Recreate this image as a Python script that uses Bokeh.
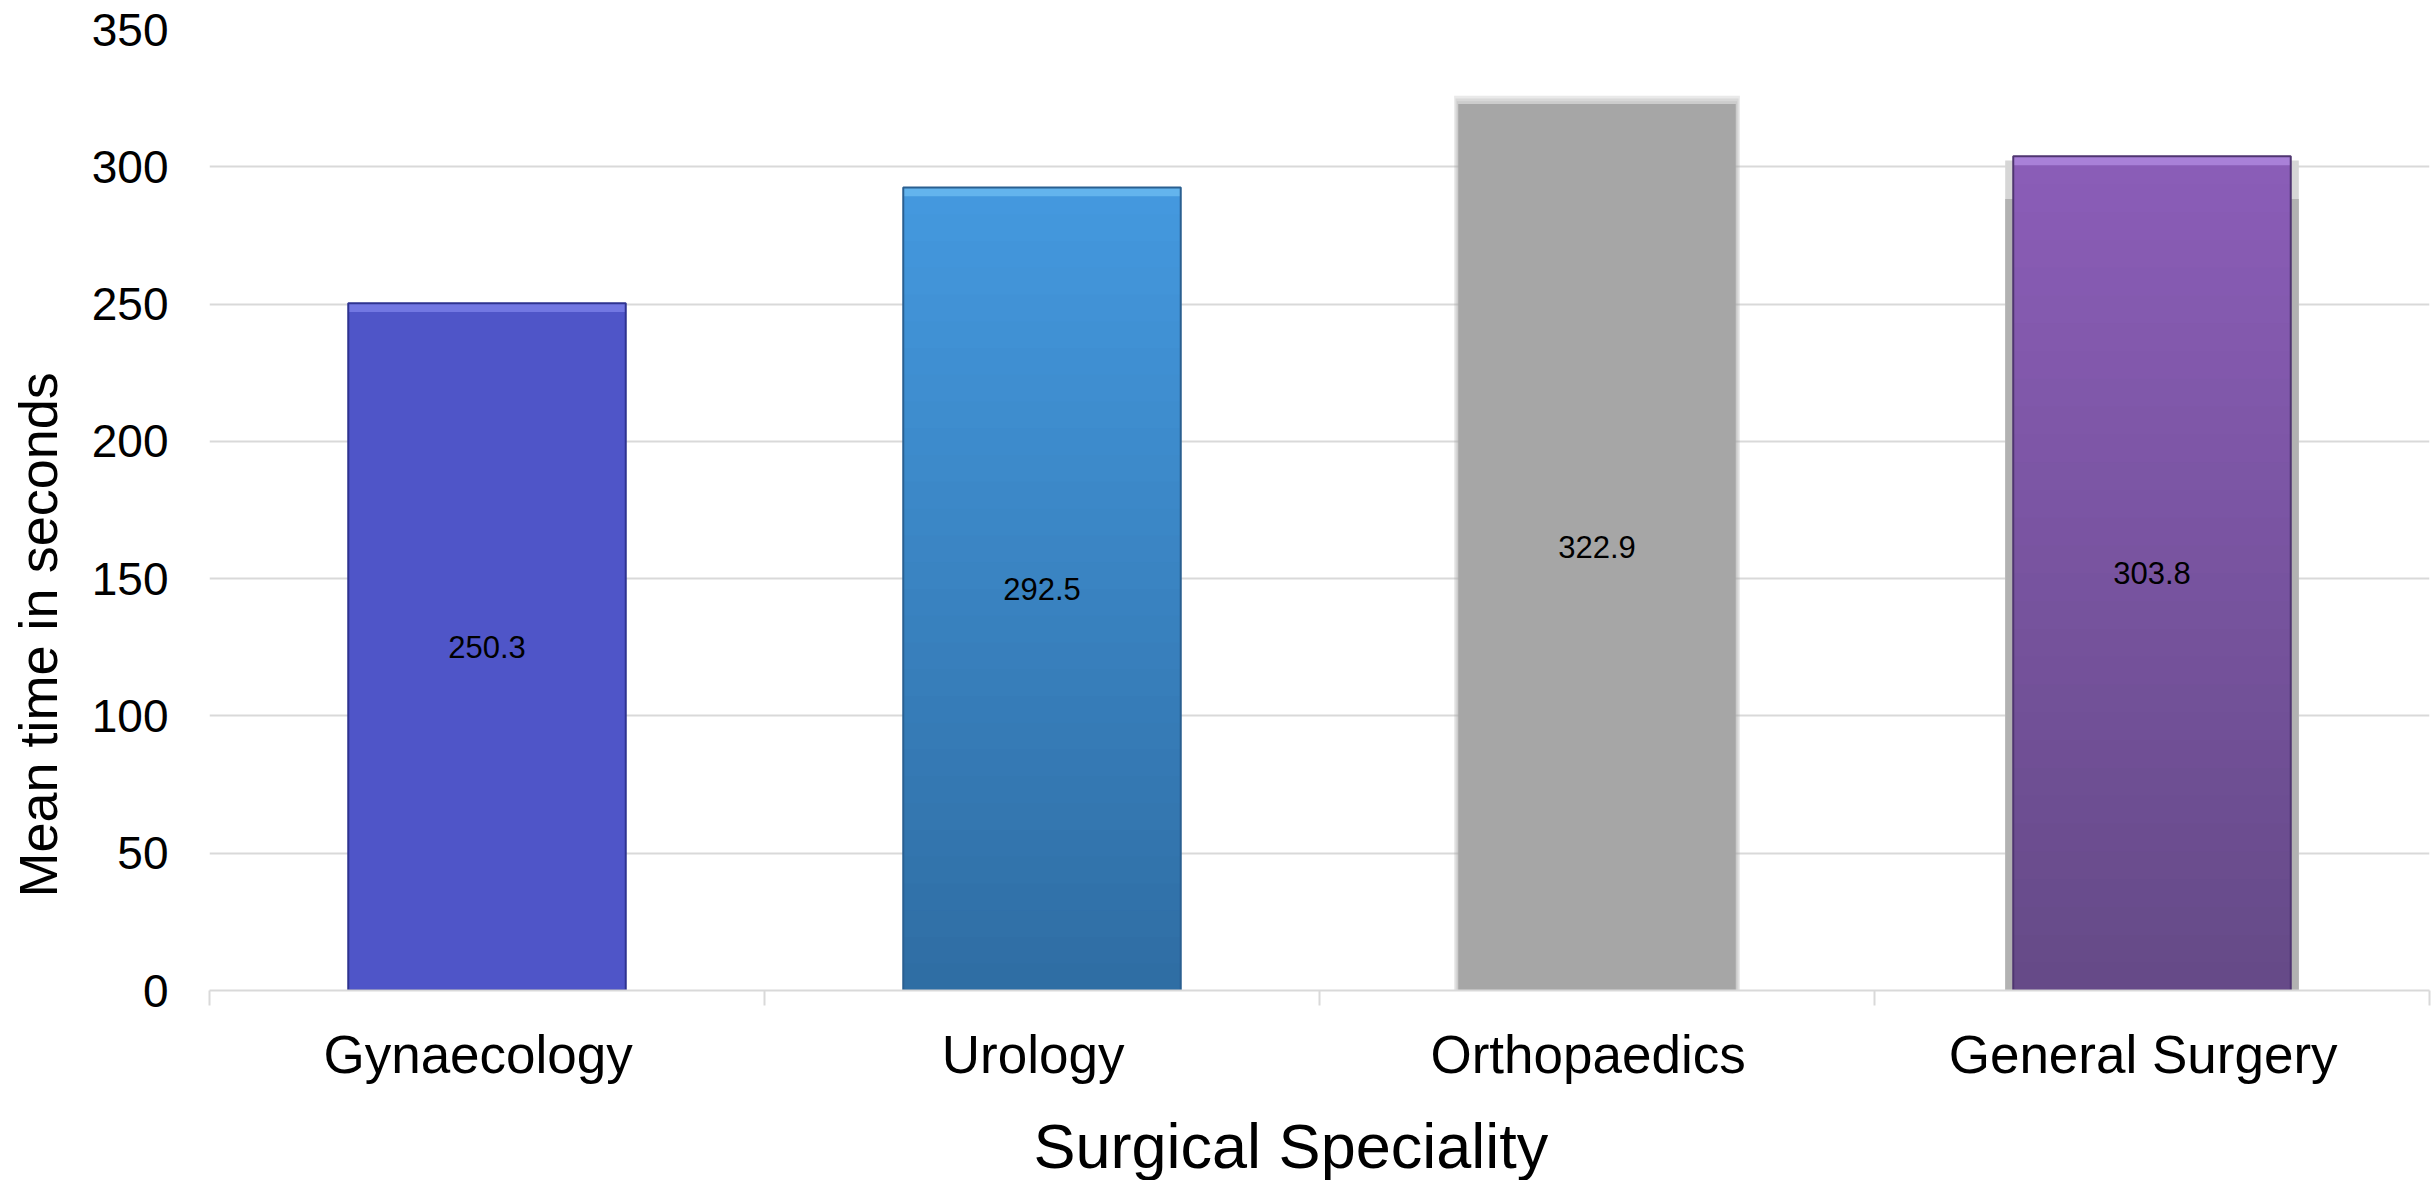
from bokeh.plotting import figure
from bokeh.models import Range1d, FixedTicker, ColumnDataSource, Title
from bokeh.core.properties import value
from bokeh.embed import file_html
from bokeh.resources import INLINE

# ---- data ----
categories = ["Gynaecology", "Urology", "Orthopaedics", "General Surgery"]
mean_times = [250.3, 292.5, 322.9, 303.8]
value_labels = ["250.3", "292.5", "322.9", "303.8"]
y_ticks = [0, 50, 100, 150, 200, 250, 300, 350]
x_title = "Surgical Speciality"
y_title = "Mean time in seconds"

# ---- style ----
FONT = "Liberation Sans"
bar_top_colors = ["#4F55C8", "#4499DF", "#A6A6A6", "#8B5DB8"]
bar_bottom_colors = ["#4F55C8", "#2F6DA3", "#A6A6A6", "#654A87"]
bar_edge_colors = ["#2E3390", "#2A5F90", None, "#4F3570"]
bar_highlight = ["#7A80E8", "#6BBBF0", None, "#B08BE0"]
BAR_W = 0.5
LABEL_SHIFT = -0.016   # category labels sit slightly left of bar centres

def hex2rgb(h):
    h = h.lstrip("#")
    return tuple(int(h[i:i + 2], 16) for i in (0, 2, 4))

def mix(c1, c2, t):
    a, b = hex2rgb(c1), hex2rgb(c2)
    return "#%02x%02x%02x" % tuple(int(round(a[k] + (b[k] - a[k]) * t)) for k in range(3))

xs = [i + 0.5 for i in range(len(categories))]
label_pos = [x + LABEL_SHIFT for x in xs]

p = figure(width=2433, height=1180, output_backend="svg", toolbar_location=None,
           x_range=Range1d(0, len(categories)), y_range=Range1d(0, 350),
           min_border_left=209, min_border_right=4, min_border_top=29,
           min_border_bottom=190)
p.outline_line_color = None
p.background_fill_color = "white"
p.border_fill_color = "white"

# grid
p.xgrid.visible = False
p.ygrid.grid_line_color = "#D9D9D9"
p.ygrid.grid_line_width = 2
p.ygrid.ticker = FixedTicker(ticks=y_ticks)

# y axis
p.yaxis.ticker = FixedTicker(ticks=y_ticks)
p.yaxis.axis_line_color = None
p.yaxis.major_tick_line_color = None
p.yaxis.minor_tick_line_color = None
p.yaxis.major_tick_out = 0
p.yaxis.major_tick_in = 0
p.yaxis.minor_tick_out = 0
p.yaxis.minor_tick_in = 0
p.yaxis.major_label_standoff = 41
p.yaxis.major_label_text_font = FONT
p.yaxis.major_label_text_font_size = "46px"
p.yaxis.major_label_text_color = "black"

# x axis: labels at category centres, boundary ticks as minor ticks
p.xaxis.ticker = FixedTicker(ticks=label_pos, minor_ticks=list(range(len(categories) + 1)))
p.xaxis.major_label_overrides = {x: c for x, c in zip(label_pos, categories)}
p.xaxis.axis_line_color = "#D9D9D9"
p.xaxis.axis_line_width = 2
p.xaxis.major_tick_line_color = None
p.xaxis.major_tick_out = 0
p.xaxis.major_tick_in = 0
p.xaxis.minor_tick_line_color = "#D9D9D9"
p.xaxis.minor_tick_line_width = 2
p.xaxis.minor_tick_out = 15
p.xaxis.minor_tick_in = 0
p.xaxis.major_label_standoff = 19
p.xaxis.major_label_text_font = FONT
p.xaxis.major_label_text_font_size = "53px"
p.xaxis.major_label_text_color = "black"

# axis titles as side titles (offset along the axis, padding on one side)
p.add_layout(Title(text=y_title, align="left", offset=93, standoff=0,
                   padding=dict(top=0, right=0, bottom=21, left=0),
                   text_font=FONT, text_font_size="54px", text_font_style="normal",
                   text_color="black"), "left")
p.add_layout(Title(text=x_title, align="left", offset=824, standoff=0,
                   padding=dict(top=22, right=0, bottom=0, left=0),
                   text_font=FONT, text_font_size="63px", text_font_style="normal",
                   text_color="black"), "below")

# ---- bars ----
N = 30
for i, (x, v) in enumerate(zip(xs, mean_times)):
    name = categories[i]
    if name == "Orthopaedics":
        # soft-edged grey bar
        for k in (3, 2, 1):
            p.vbar(x=[x], width=BAR_W + 0.005 * k, bottom=0, top=[v + 1.0 * k],
                   fill_color="#A6A6A6", fill_alpha=0.25, line_color=None)
        p.vbar(x=[x], width=BAR_W, bottom=0, top=[v], fill_color="#A6A6A6",
               line_color=None)
        continue
    if name == "General Surgery":
        # grey shadow behind the bar
        p.vbar(x=[x], width=BAR_W + 0.029, bottom=0, top=[v - 1.5],
               fill_color="#D6D6D6", line_color=None)
        p.vbar(x=[x], width=BAR_W + 0.029, bottom=0, top=[v - 15.5],
               fill_color="#B2B2B2", line_color=None)
    if bar_top_colors[i] == bar_bottom_colors[i]:
        p.vbar(x=[x], width=BAR_W, bottom=0, top=[v], fill_color=bar_top_colors[i],
               line_color=None)
    else:
        step = v / N
        bottoms = [step * j for j in range(N)]
        tops = [min(v, step * (j + 1) + step * 0.6) for j in range(N)]
        cols = [mix(bar_bottom_colors[i], bar_top_colors[i], (j + 0.5) / N) for j in range(N)]
        src = ColumnDataSource(dict(x=[x] * N, bottom=bottoms, top=tops, color=cols))
        p.vbar(x="x", width=BAR_W, bottom="bottom", top="top", fill_color="color",
               line_color=None, source=src)
    # top bevel highlight
    p.vbar(x=[x], width=BAR_W, bottom=[v - 3.2], top=[v],
           fill_color=bar_highlight[i], fill_alpha=0.8, line_color=None)
    # edge outline
    p.vbar(x=[x], width=BAR_W, bottom=0, top=[v], fill_color=None,
           line_color=bar_edge_colors[i], line_width=2)

# value labels centred inside bars
lab_src = ColumnDataSource(dict(x=xs, y=[v / 2 for v in mean_times], t=value_labels))
p.text(x="x", y="y", text="t", source=lab_src, text_align="center",
       text_baseline="middle", text_font=value(FONT), text_font_size="31px",
       text_color="black")

open("out.html", "w").write(file_html(p, INLINE))
